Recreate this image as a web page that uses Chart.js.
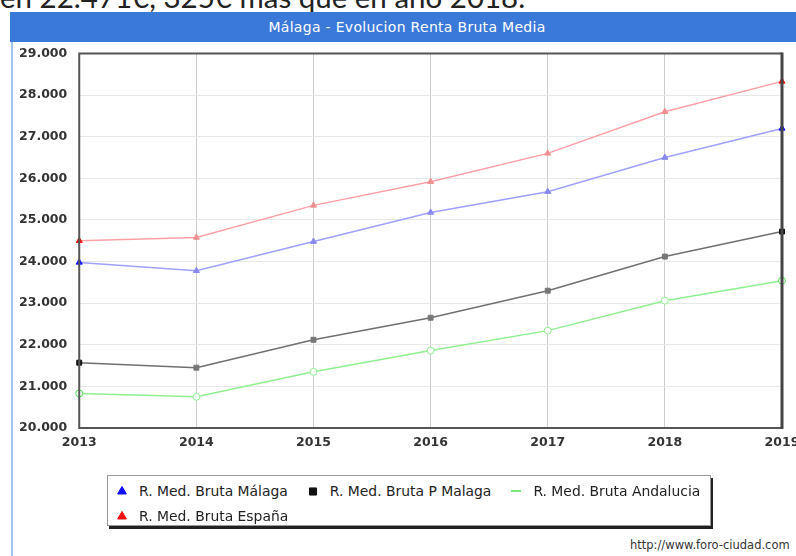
<!DOCTYPE html>
<html>
<head>
<meta charset="utf-8">
<script src="https://cdn.jsdelivr.net/npm/chart.js@4.4.1/dist/chart.umd.min.js"></script>
<style>
  html, body { margin: 0; padding: 0; width: 796px; height: 556px; overflow: hidden; background: #fff; }
  body { position: relative; font-family: 'DejaVu Sans', sans-serif; }
  #intro { position: absolute; left: 0; top: -21px; font-family: 'Lato', sans-serif; font-size: 29.5px; color: #222; white-space: nowrap; }
  #frame { position: absolute; left: 11px; top: 12px; width: 800px; height: 560px; border-left: 2px solid #9fc2f2; }
  #header { position: absolute; left: 10px; top: 12px; width: 790px; height: 30px; background: #3b79d8;
            color: #fff; font-size: 14px; letter-spacing: 0.3px; line-height: 30px; text-align: center; }
  #header span { position: relative; left: 2px; }
  #chart { position: absolute; left: 13px; top: 34px; }
  #legend { position: absolute; left: 107px; top: 475px; width: 604px; height: 51px; border: 1px solid #999;
            box-shadow: 2px 3px 0 #222; background: #fff; box-sizing: border-box; padding: 6px 0 0 8px;
            display: flex; flex-wrap: wrap; column-gap: 19px; row-gap: 6px; font-size: 13.9px; color: #222; }
  .item { display: flex; align-items: center; height: 18px; }
  .item canvas { margin-right: 11px; }
  #credit { position: absolute; left: 630px; top: 538px; font-size: 11.5px; color: #333; }
</style>
</head>
<body>
<div id="intro">en 22.471€, 325€ más que en año 2018.</div>
<div id="frame"></div>
<div id="header"><span>Málaga - Evolucion Renta Bruta Media</span></div>
<canvas id="chart" width="800" height="429" style="width:800px;height:429px"></canvas>
<div id="legend"></div>
<div id="credit">http://www.foro-ciudad.com</div>

<script>
// --- data ---
const years = ['2013', '2014', '2015', '2016', '2017', '2018', '2019'];
const rentaMalaga    = [23980, 23780, 24480, 25180, 25680, 26500, 27200];
const rentaPMalaga   = [21570, 21450, 22120, 22650, 23300, 24120, 24720];
const rentaAndalucia = [20830, 20750, 21350, 21860, 22340, 23060, 23540];
const rentaEspana    = [24500, 24580, 25350, 25920, 26600, 27600, 28330];
const seriesNames = ['R. Med. Bruta Málaga', 'R. Med. Bruta P Malaga', 'R. Med. Bruta Andalucia', 'R. Med. Bruta España'];
const yMin = 20000, yMax = 29000, yStep = 1000;

const fmt = v => String(v).replace(/\B(?=(\d{3})+(?!\d))/g, '.');

// ends of each line drawn in the strong colour, the rest faded
const pointColors = (strong, faded) => years.map((_, i) => (i === 0 || i === years.length - 1) ? strong : faded);

const styles = [
  { line: '#a0a0ff', strong: '#1010ff', faded: '#8888ee', point: 'triangle', legend: 'triangle' },
  { line: '#707070', strong: '#111111', faded: '#777777', point: 'rect',     legend: 'rect' },
  { line: '#90f090', strong: '#50e050', faded: '#90f090', point: 'circle',   legend: 'line' },
  { line: '#ffa0a8', strong: '#ff1010', faded: '#f09090', point: 'triangle', legend: 'triangle' }
];
const values = [rentaMalaga, rentaPMalaga, rentaAndalucia, rentaEspana];

const datasets = values.map((data, i) => ({
  label: seriesNames[i],
  data,
  borderColor: styles[i].line,
  borderWidth: 1.5,
  tension: 0,
  fill: false,
  pointStyle: styles[i].point,
  pointRadius: 3.5,
  pointBorderWidth: 1,
  pointBackgroundColor: styles[i].point === 'circle' ? '#ffffff' : pointColors(styles[i].strong, styles[i].faded),
  pointBorderColor: pointColors(styles[i].strong, styles[i].faded)
}));

const plotFrame = {
  id: 'plotFrame',
  afterDatasetsDraw(chart) {
    const { ctx, chartArea: a } = chart;
    ctx.save();
    ctx.strokeStyle = '#555';
    ctx.lineWidth = 2;
    ctx.beginPath();
    ctx.moveTo(a.right, a.top);
    ctx.lineTo(a.left, a.top);
    ctx.lineTo(a.left, a.bottom);
    ctx.lineTo(a.right, a.bottom);
    ctx.stroke();
    ctx.lineWidth = 3;
    ctx.strokeStyle = '#444';
    ctx.beginPath();
    ctx.moveTo(a.right, a.top - 1);
    ctx.lineTo(a.right, a.bottom + 1);
    ctx.stroke();
    ctx.restore();
  }
};

const tickFont = { family: 'DejaVu Sans', size: 12.5, weight: 'bold' };

const chart = new Chart(document.getElementById('chart'), {
  type: 'line',
  data: { labels: years, datasets },
  options: {
    responsive: false,
    animation: false,
    devicePixelRatio: 1,
    layout: { padding: { top: 3, right: 31, bottom: 6, left: -6 } },
    plugins: {
      legend: { display: false },
      title: { display: false },
      tooltip: { enabled: false }
    },
    scales: {
      x: {
        offset: false,
        grid: { color: '#cccccc', drawTicks: false },
        border: { display: false },
        ticks: { color: '#333', padding: 7, font: tickFont }
      },
      y: {
        min: yMin,
        max: yMax,
        grid: { color: '#e8e8e8', drawTicks: false },
        border: { display: false },
        ticks: {
          stepSize: yStep,
          color: '#333',
          padding: 12,
          font: tickFont,
          callback: v => fmt(v)
        }
      }
    }
  },
  plugins: [plotFrame]
});

// legend built from the chart's own datasets
const legendEl = document.getElementById('legend');
chart.data.datasets.forEach((ds, i) => {
  const item = document.createElement('div');
  item.className = 'item';
  const icon = document.createElement('canvas');
  icon.width = 12; icon.height = 12;
  const c = icon.getContext('2d');
  c.fillStyle = styles[i].strong;
  c.strokeStyle = styles[i].strong;
  if (styles[i].legend === 'line') {
    c.lineWidth = 1.5;
    c.beginPath(); c.moveTo(1, 6); c.lineTo(11, 6); c.stroke();
  } else {
    Chart.helpers.drawPoint(c, { pointStyle: styles[i].legend, radius: 5, borderWidth: 1 }, 6, 6.5);
    c.fill();
  }
  item.appendChild(icon);
  const txt = document.createElement('span');
  txt.textContent = ds.label;
  item.appendChild(txt);
  legendEl.appendChild(item);
});
</script>
</body>
</html>
